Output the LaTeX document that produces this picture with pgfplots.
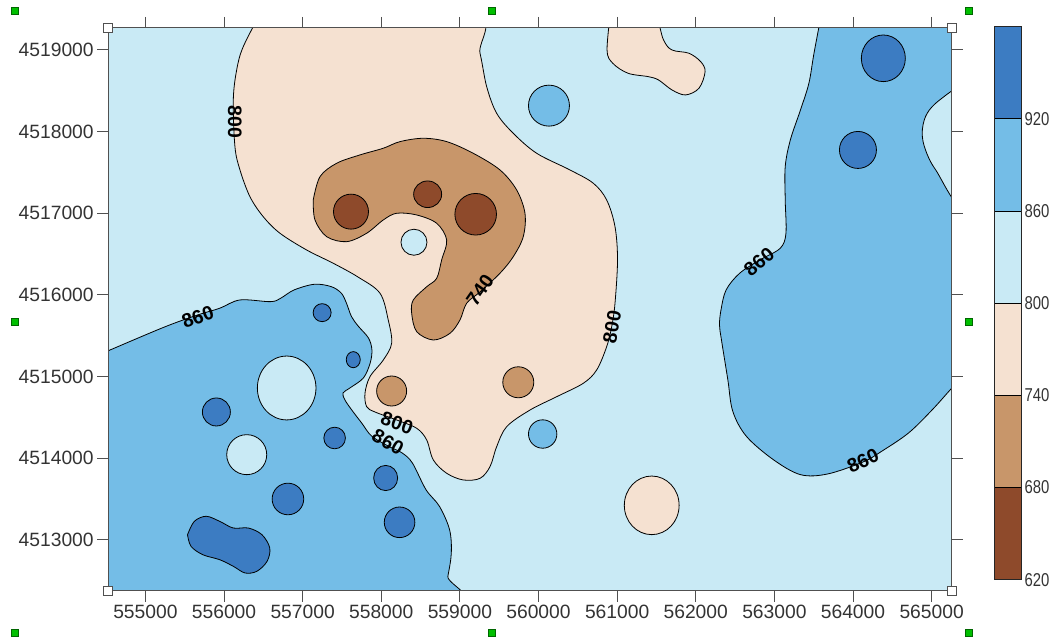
\documentclass[border=0pt]{standalone}
\usepackage{fontspec}
\setmainfont{Liberation Sans}
\newfontfamily\narrowfont[FakeStretch=0.8]{Liberation Sans}
\usepackage{pgfplots}
\pgfplotsset{compat=1.18}
\definecolor{cA}{HTML}{8E4A2B}
\definecolor{cB}{HTML}{C8966A}
\definecolor{cC}{HTML}{F5E1D1}
\definecolor{cD}{HTML}{C9EAF5}
\definecolor{cE}{HTML}{74BDE7}
\definecolor{cF}{HTML}{3C7CC2}
\definecolor{axgray}{HTML}{505050}
\definecolor{txtgray}{HTML}{333333}
\begin{document}
\begin{tikzpicture}[x=1pt,y=1pt]
\useasboundingbox (-108.2pt,-52.3pt) rectangle (951.8pt,590.7pt);
\begin{axis}[at={(0pt,0pt)}, anchor=south west, scale only axis,
  width=843.7pt, height=563pt,
  xmin=554527, xmax=565258, ymin=4512374, ymax=4519273,
  axis background/.style={fill=cD},
  axis on top,
  xtick={555000,556000,557000,558000,559000,560000,561000,562000,563000,564000,565000},
  ytick={4513000,4514000,4515000,4516000,4517000,4518000,4519000},
  scaled ticks=false,
  /pgf/number format/.cd, fixed, precision=0, 1000 sep={}, assume math mode=true, /pgfplots/.cd,
  tick align=outside, major tick length=11pt,
  tick style={draw=axgray, line width=1pt},
  axis line style={draw=axgray, line width=1pt},
  ticklabel style={font=\fontsize{19.25}{20}\selectfont, text=txtgray},
  every axis plot/.append style={line width=0.8pt},
]
% 740-800 band: large central area
\addplot[fill=cC, draw=black, smooth, tension=0.55] coordinates {
(556490,4519500) (559110,4519500) (559256,4518960) (559341,4518550) (559468,4518224)
(559679,4517979) (559977,4517734) (560400,4517530) (560697,4517367) (560867,4517162)
(560973,4516835) (561005,4516427) (560973,4515896) (560931,4515609) (560867,4515364)
(560740,4515079) (560570,4514916) (560231,4514751) (559892,4514588) (559595,4514384)
(559468,4514139) (559383,4513894) (559256,4513751) (559043,4513731) (558832,4513813)
(558662,4513976) (558578,4514221) (558451,4514364) (558196,4514466) (557920,4514564)
(557814,4514629) (557793,4514793) (557856,4514996) (558026,4515201) (558132,4515406)
(558089,4515691) (557984,4516019) (557704,4516218) (557390,4516386) (557051,4516549)
(556712,4516754) (556499,4516957) (556330,4517202) (556203,4517530) (556139,4517815)
(556118,4518387) (556161,4518755) (556245,4519041) (556490,4519500)} -- cycle;
% 740-800 band: small area at top
\addplot[fill=cC, draw=black, smooth, tension=0.55] coordinates {
(560920,4519500) (560872,4519000) (560945,4518837) (561138,4518715) (561396,4518673)
(561526,4518633) (561698,4518510) (561870,4518449) (562041,4518531) (562119,4518734)
(562063,4518857) (561913,4518960) (561698,4519000) (561590,4519123) (561430,4519500)
(560920,4519500)} -- cycle;
% 680-740 band: horseshoe
\addplot[fill=cB, draw=black, smooth, tension=0.55] coordinates {
(557135,4517162) (557221,4517448) (557433,4517612) (557729,4517714) (558026,4517796)
(558238,4517877) (558534,4517918) (558832,4517877) (559170,4517734) (559510,4517530)
(559722,4517285) (559828,4516999) (559806,4516712) (559679,4516467) (559510,4516264)
(559256,4516035) (559086,4515896) (559001,4515691) (558874,4515528) (558662,4515446)
(558451,4515548) (558387,4515773) (558407,4515936) (558578,4516099) (558705,4516202)
(558768,4516427) (558832,4516672) (558705,4516876) (558451,4516978) (558196,4516999)
(558026,4516917) (557814,4516754) (557560,4516651) (557306,4516712) (557157,4516917)
(557135,4517162)} -- cycle;
% 620-680 band
\addplot[only marks, mark=*, mark size=17.5pt, mark options={fill=cA, draw=black, line width=0.8pt}] coordinates {(557615,4517019)};
\addplot[only marks, mark=*, mark size=14pt, mark options={fill=cA, draw=black, line width=0.8pt, yscale=0.95}] coordinates {(558590,4517232)};
\addplot[only marks, mark=*, mark size=20.8pt, mark options={fill=cA, draw=black, line width=0.8pt}] coordinates {(559201,4516987)};
% 800-860 spot inside horseshoe
\addplot[only marks, mark=*, mark size=13pt, mark options={fill=cD, draw=black, line width=0.8pt}] coordinates {(558416,4516644)};
% 680-740 spots
\addplot[only marks, mark=*, mark size=15pt, mark options={fill=cB, draw=black, line width=0.8pt}] coordinates {(558132,4514821)};
\addplot[only marks, mark=*, mark size=15.5pt, mark options={fill=cB, draw=black, line width=0.8pt}] coordinates {(559743,4514928)};
% 860-920 band: south-west area
\addplot[fill=cE, draw=black, smooth, tension=0.55] coordinates {
(554300,4515220) (555211,4515593) (555666,4515753) (555945,4515835) (556203,4515937)
(556591,4515916) (556719,4515957) (556890,4516059) (557149,4516129) (557364,4516100)
(557493,4516019) (557558,4515896) (557622,4515732) (557709,4515614) (557837,4515471)
(557881,4515327) (557859,4515164) (557773,4514981) (557601,4514858) (557514,4514797)
(557536,4514715) (557622,4514592) (557751,4514429) (557881,4514266) (558111,4514135)
(558267,4514061) (558396,4513939) (558569,4513612) (558740,4513408) (558869,4513121)
(558891,4512836) (558847,4512550) (558760,4512150) (554300,4512150) (554300,4515220)} -- cycle;
% 800-860 holes
\addplot[only marks, mark=*, mark size=29.3pt, mark options={fill=cD, draw=black, line width=0.8pt, yscale=1.09}] coordinates {(556797,4514858)};
\addplot[only marks, mark=*, mark size=20pt, mark options={fill=cD, draw=black, line width=0.8pt}] coordinates {(556289,4514041)};
% 920-980 spots south-west
\addplot[fill=cF, draw=black, smooth, tension=0.55] coordinates {
(555536,4513060) (555623,4513224) (555773,4513286) (555945,4513224) (556118,4513142)
(556311,4513142) (556483,4513060) (556582,4512897) (556548,4512734) (556418,4512612)
(556268,4512591) (556118,4512673) (555945,4512754) (555730,4512815) (555580,4512918)
(555536,4513060)} -- cycle;
\addplot[only marks, mark=*, mark size=9pt, mark options={fill=cF, draw=black, line width=0.8pt}] coordinates {(557248,4515781)};
\addplot[only marks, mark=*, mark size=7pt, mark options={fill=cF, draw=black, line width=0.8pt, yscale=1.15}] coordinates {(557644,4515205)};
\addplot[only marks, mark=*, mark size=14pt, mark options={fill=cF, draw=black, line width=0.8pt}] coordinates {(555903,4514564)};
\addplot[only marks, mark=*, mark size=10.8pt, mark options={fill=cF, draw=black, line width=0.8pt}] coordinates {(557407,4514245)};
\addplot[only marks, mark=*, mark size=15.8pt, mark options={fill=cF, draw=black, line width=0.8pt}] coordinates {(556813,4513498)};
\addplot[only marks, mark=*, mark size=12pt, mark options={fill=cF, draw=black, line width=0.8pt, yscale=1.05}] coordinates {(558056,4513755)};
\addplot[only marks, mark=*, mark size=15.3pt, mark options={fill=cF, draw=black, line width=0.8pt}] coordinates {(558233,4513212)};
% 860-920 band: east area
\addplot[fill=cE, draw=black, smooth, tension=0.55] coordinates {
(563610,4519500) (563504,4518960) (563439,4518592) (563332,4518265) (563203,4517897)
(563138,4517570) (563138,4517162) (563147,4516754) (563074,4516570) (562816,4516427)
(562558,4516264) (562386,4516059) (562321,4515814) (562302,4515630) (562327,4515447)
(562408,4514960) (562471,4514572) (562644,4514266) (562988,4513979) (563332,4513796)
(563676,4513804) (564127,4513951) (564364,4514082) (564707,4514307) (565009,4514592)
(565258,4514858) (565500,4515100) (565500,4519500) (563610,4519500)} -- cycle;
% 800-860 lobe at east edge
\addplot[fill=cD, draw=black, smooth, tension=0.55] coordinates {
(565400,4518600) (565052,4518347) (564922,4518183) (564880,4517979) (564922,4517775)
(565052,4517530) (565400,4517120) (565400,4518600)} -- cycle;
% 920-980 spots east
\addplot[only marks, mark=*, mark size=22pt, mark options={fill=cF, draw=black, line width=0.8pt, yscale=1.06}] coordinates {(564386,4518898)};
\addplot[only marks, mark=*, mark size=18.5pt, mark options={fill=cF, draw=black, line width=0.8pt}] coordinates {(564063,4517775)};
% 860-920 spots
\addplot[only marks, mark=*, mark size=20.5pt, mark options={fill=cE, draw=black, line width=0.8pt}] coordinates {(560133,4518318)};
\addplot[only marks, mark=*, mark size=14.2pt, mark options={fill=cE, draw=black, line width=0.8pt}] coordinates {(560053,4514294)};
% 740-800 spot
\addplot[only marks, mark=*, mark size=27.4pt, mark options={fill=cC, draw=black, line width=0.8pt, yscale=1.07}] coordinates {(561440,4513420)};
% contour labels
\begin{scope}[every node/.style={font=\fontsize{19.5}{19.5}\selectfont\bfseries, inner sep=0pt}]
\node[rotate=-90] at (axis cs:556139,4518122) {800};
\node[rotate=20] at (axis cs:555666,4515728) {860};
\node[rotate=55] at (axis cs:559256,4516059) {740};
\node[rotate=80] at (axis cs:560935,4515606) {800};
\node[rotate=-20] at (axis cs:558200,4514429) {800};
\node[rotate=-30] at (axis cs:558085,4514196) {860};
\node[rotate=40] at (axis cs:562805,4516402) {860};
\node[rotate=25] at (axis cs:564127,4513963) {860};
\end{scope}
\end{axis}
% colour scale
\begin{axis}[at={(885.8pt,11pt)}, anchor=south west, scale only axis,
  width=27pt, height=553pt, xmin=0, xmax=1, ymin=620, ymax=980,
  xtick=\empty, ytick={620,680,740,800,860,920},
  yticklabel pos=right, ytick style={draw=none}, major tick length=0pt,
  axis on top,
  axis line style={draw=black!85, line width=1pt},
  /pgf/number format/assume math mode=true,
  yticklabel style={font=\narrowfont\fontsize{18.6}{19}\selectfont, text=txtgray},
]
\addplot[fill=cA, draw=black, line width=0.8pt] coordinates {(0,620) (1,620) (1,680) (0,680)} -- cycle;
\addplot[fill=cB, draw=black, line width=0.8pt] coordinates {(0,680) (1,680) (1,740) (0,740)} -- cycle;
\addplot[fill=cC, draw=black, line width=0.8pt] coordinates {(0,740) (1,740) (1,800) (0,800)} -- cycle;
\addplot[fill=cD, draw=black, line width=0.8pt] coordinates {(0,800) (1,800) (1,860) (0,860)} -- cycle;
\addplot[fill=cE, draw=black, line width=0.8pt] coordinates {(0,860) (1,860) (1,920) (0,920)} -- cycle;
\addplot[fill=cF, draw=black, line width=0.8pt] coordinates {(0,920) (1,920) (1,980) (0,980)} -- cycle;
\end{axis}
% selection handles of the original screenshot
\foreach \hx/\hy in {-93/579.7, 383.7/579.7, 860.6/579.7, -93/269, 860.6/269, -93/-42.3, 383.7/-42.3, 860.6/-42.3}
  \filldraw[fill=green!75!black, draw=green!40!black, line width=0.8pt] (\hx-3.5,\hy-3.5) rectangle (\hx+3.5,\hy+3.5);
\foreach \hx/\hy in {0/0, 843.7/0, 0/563, 843.7/563}
  \filldraw[fill=white, draw=axgray, line width=0.8pt] (\hx-4.5,\hy-4.5) rectangle (\hx+4.5,\hy+4.5);
\end{tikzpicture}
\end{document}
